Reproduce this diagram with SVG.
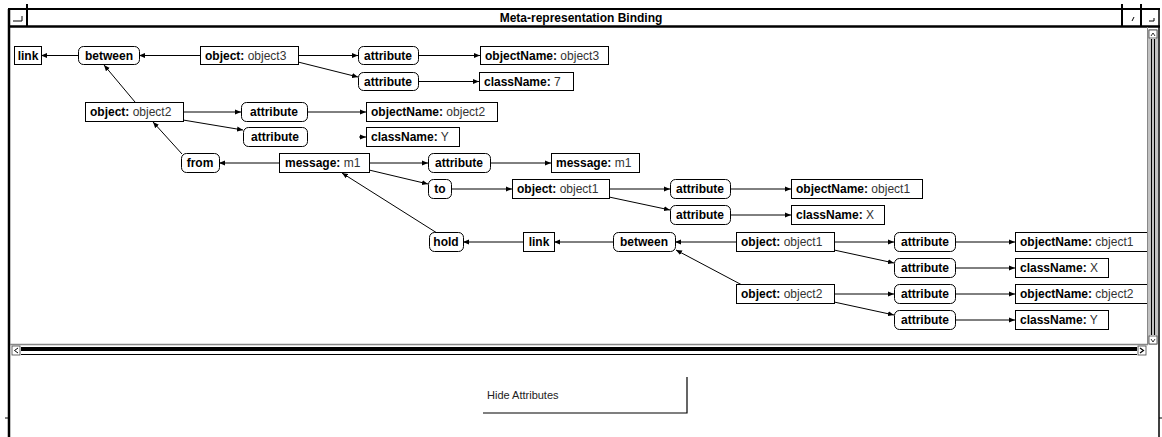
<svg xmlns="http://www.w3.org/2000/svg" width="1162" height="437" viewBox="0 0 1162 437">
<style>
.box{fill:#fff;stroke:#000;stroke-width:1}
.rnd{fill:#fff;stroke:#000;stroke-width:1}
.t{font-family:"Liberation Sans",Arial,sans-serif;font-size:12px;fill:#000}
.b{font-weight:bold}
.v{font-weight:normal;fill:#333}
.c line{stroke:#000;stroke-width:1;marker-end:url(#ah)}
.fr{stroke:#000;fill:none}
</style>
<defs>
<marker id="ah" viewBox="0 0 6 6" refX="6" refY="3" markerWidth="6" markerHeight="6" orient="auto" markerUnits="userSpaceOnUse">
<path d="M0,0.5 L6,3 L0,5.5 z" fill="#000"/>
</marker>
<clipPath id="cv"><rect x="10" y="27" width="1137" height="317"/></clipPath>
</defs>
<rect x="0" y="0" width="1162" height="437" fill="#fff"/>

<!-- window frame -->
<g id="frame">
<line class="fr" x1="8" y1="9" x2="1160" y2="9" stroke-width="2"/>
<line class="fr" x1="9" y1="9" x2="9" y2="437" stroke-width="2.5"/>
<line class="fr" x1="1159" y1="9" x2="1159" y2="437" stroke-width="1.5"/>
<line class="fr" x1="9" y1="26.5" x2="1160" y2="26.5" stroke-width="2.5"/>
<line class="fr" x1="27" y1="4" x2="27" y2="27" stroke-width="2"/>
<line class="fr" x1="1122" y1="4" x2="1122" y2="27" stroke-width="2"/>
<line class="fr" x1="1141" y1="4" x2="1141" y2="27" stroke-width="2"/>
<path class="fr" d="M13,21 H22 V16" stroke-width="1"/>
<path class="fr" d="M1132,21 L1134,17" stroke-width="1"/>
<path class="fr" d="M1149,21 H1154 V18" stroke-width="1"/>
<text class="t b" x="581" y="22" text-anchor="middle" font-size="11.5">Meta-representation Binding</text>
<line class="fr" x1="5" y1="418" x2="9" y2="418" stroke-width="1"/>
<line class="fr" x1="1159" y1="418" x2="1162" y2="418" stroke-width="1"/>
</g>

<!-- canvas borders and scrollbars -->
<g id="scrollbars">
<line x1="10" y1="344.5" x2="1148" y2="344.5" stroke="#888" stroke-width="1.5"/>
<line x1="1147.5" y1="27" x2="1147.5" y2="345" stroke="#888" stroke-width="1"/>
<rect x="1149" y="30" width="8" height="314" fill="#fff" stroke="#666" stroke-width="0.8"/>
<rect x="1149" y="30" width="8" height="8" fill="#fff" stroke="#444" stroke-width="0.8"/>
<path d="M1151,36 L1153,33 L1155,36" fill="none" stroke="#000" stroke-width="0.8"/>
<line x1="1151.5" y1="39" x2="1151.5" y2="335" stroke="#000" stroke-width="1.5"/>
<line x1="1154.5" y1="39" x2="1154.5" y2="335" stroke="#000" stroke-width="1.5"/>
<rect x="1149" y="336" width="8" height="8" fill="#fff" stroke="#444" stroke-width="0.8"/>
<path d="M1151,339 L1153,342 L1155,339" fill="none" stroke="#000" stroke-width="0.8"/>
<rect x="12" y="346" width="8" height="9" fill="#fff" stroke="#444" stroke-width="0.8"/>
<path d="M18,348 L14.5,350.5 L18,353" fill="none" stroke="#000" stroke-width="1"/>
<rect x="21" y="347" width="1116" height="4" fill="#000"/>
<line x1="21" y1="354.5" x2="1137" y2="354.5" stroke="#000" stroke-width="1"/>
<rect x="1138" y="346" width="8" height="9" fill="#fff" stroke="#444" stroke-width="0.8"/>
<path d="M1140,348 L1143.5,350.5 L1140,353" fill="none" stroke="#000" stroke-width="1.2"/>
</g>

<!-- button -->
<g id="hide-attributes">
<path d="M483,413 H687 V377" fill="none" stroke="#000" stroke-width="1.2"/>
<text x="487" y="399" font-family="'Liberation Sans',Arial,sans-serif" font-size="11" fill="#222">Hide Attributes</text>
</g>

<g clip-path="url(#cv)">
<!-- connectors -->
<g id="connectors" class="c">
<line x1="78" y1="55.5" x2="41" y2="55.5"/>
<line x1="200" y1="55.5" x2="139" y2="55.5"/>
<line x1="298" y1="55.5" x2="358" y2="55.5"/>
<line x1="298" y1="62" x2="358" y2="77"/>
<line x1="418" y1="55.5" x2="480" y2="55.5"/>
<line x1="418" y1="81.5" x2="479" y2="81.5"/>
<line x1="135" y1="102" x2="104" y2="65"/>
<line x1="183" y1="112" x2="241" y2="112"/>
<line x1="183" y1="120" x2="243" y2="130"/>
<line x1="307" y1="112" x2="366" y2="112"/>
<line x1="359" y1="137" x2="366" y2="137"/>
<line x1="182" y1="154" x2="153" y2="122"/>
<line x1="279" y1="163" x2="219" y2="163"/>
<line x1="369" y1="163" x2="428" y2="163"/>
<line x1="369" y1="170" x2="428" y2="184"/>
<line x1="490" y1="163" x2="551" y2="163"/>
<line x1="451" y1="189" x2="512" y2="189"/>
<line x1="609" y1="189" x2="670" y2="189"/>
<line x1="609" y1="197" x2="670" y2="210"/>
<line x1="730" y1="189" x2="791" y2="189"/>
<line x1="730" y1="215" x2="791" y2="215"/>
<line x1="437" y1="233" x2="342" y2="173"/>
<line x1="523" y1="242" x2="463" y2="242"/>
<line x1="613" y1="242" x2="554" y2="242"/>
<line x1="736" y1="242" x2="675" y2="242"/>
<line x1="742" y1="285" x2="676" y2="250"/>
<line x1="834" y1="242" x2="894" y2="242"/>
<line x1="834" y1="250" x2="894" y2="263"/>
<line x1="955" y1="242" x2="1015" y2="242"/>
<line x1="955" y1="268" x2="1015" y2="268"/>
<line x1="834" y1="294" x2="894" y2="294"/>
<line x1="834" y1="302" x2="894" y2="315"/>
<line x1="955" y1="294" x2="1015" y2="294"/>
<line x1="955" y1="320" x2="1015" y2="320"/>
</g>

<!-- row A -->
<g id="n-link1"><rect class="box" x="14.5" y="46.5" width="27" height="18"/><text class="t b" x="28" y="60" text-anchor="middle">link</text></g>
<g id="n-between1"><rect class="rnd" x="78.5" y="46.5" width="61" height="18" rx="5"/><text class="t b" x="109" y="60" text-anchor="middle">between</text></g>
<g id="n-object3"><rect class="box" x="200.5" y="46.5" width="98" height="18"/><text class="t" x="205" y="60"><tspan class="b">object:</tspan><tspan class="v"> object3</tspan></text></g>
<g id="n-attr-a1"><rect class="rnd" x="358.5" y="46.5" width="60" height="18" rx="5"/><text class="t b" x="388" y="60" text-anchor="middle">attribute</text></g>
<g id="n-objname3"><rect class="box" x="480.5" y="46.5" width="128" height="18"/><text class="t" x="485" y="60"><tspan class="b">objectName:</tspan><tspan class="v"> object3</tspan></text></g>
<!-- row B -->
<g id="n-attr-a2"><rect class="rnd" x="358.5" y="72.5" width="60" height="18" rx="5"/><text class="t b" x="388" y="86" text-anchor="middle">attribute</text></g>
<g id="n-classname7"><rect class="box" x="479.5" y="72.5" width="94" height="18"/><text class="t" x="484" y="86"><tspan class="b">className:</tspan><tspan class="v"> 7</tspan></text></g>
<!-- row C -->
<g id="n-object2"><rect class="box" x="85.5" y="102.5" width="98" height="19"/><text class="t" x="90" y="116"><tspan class="b">object:</tspan><tspan class="v"> object2</tspan></text></g>
<g id="n-attr-c1"><rect class="rnd" x="241.5" y="102.5" width="66" height="19" rx="5"/><text class="t b" x="274" y="116" text-anchor="middle">attribute</text></g>
<g id="n-objname2"><rect class="box" x="366.5" y="102.5" width="131" height="19"/><text class="t" x="371" y="116"><tspan class="b">objectName:</tspan><tspan class="v"> object2</tspan></text></g>
<!-- row D -->
<g id="n-attr-c2"><rect class="rnd" x="243.5" y="127.5" width="64" height="19" rx="5"/><text class="t b" x="275" y="141" text-anchor="middle">attribute</text></g>
<g id="n-classnameY1"><rect class="box" x="366.5" y="127.5" width="93" height="19"/><text class="t" x="371" y="141"><tspan class="b">className:</tspan><tspan class="v"> Y</tspan></text></g>
<!-- row E -->
<g id="n-from"><rect class="rnd" x="181.5" y="153.5" width="38" height="19" rx="5"/><text class="t b" x="200" y="167" text-anchor="middle">from</text></g>
<g id="n-message"><rect class="box" x="279.5" y="153.5" width="90" height="19"/><text class="t" x="285" y="167"><tspan class="b">message:</tspan><tspan class="v"> m1</tspan></text></g>
<g id="n-attr-e"><rect class="rnd" x="428.5" y="153.5" width="62" height="19" rx="5"/><text class="t b" x="459" y="167" text-anchor="middle">attribute</text></g>
<g id="n-msgval"><rect class="box" x="551.5" y="153.5" width="88" height="19"/><text class="t" x="556" y="167"><tspan class="b">message:</tspan><tspan class="v"> m1</tspan></text></g>
<!-- row F -->
<g id="n-to"><rect class="rnd" x="428.5" y="179.5" width="23" height="19" rx="5"/><text class="t b" x="440" y="193" text-anchor="middle">to</text></g>
<g id="n-object1a"><rect class="box" x="512.5" y="179.5" width="97" height="19"/><text class="t" x="517" y="193"><tspan class="b">object:</tspan><tspan class="v"> object1</tspan></text></g>
<g id="n-attr-f1"><rect class="rnd" x="670.5" y="179.5" width="60" height="19" rx="5"/><text class="t b" x="700" y="193" text-anchor="middle">attribute</text></g>
<g id="n-objname1a"><rect class="box" x="791.5" y="179.5" width="131" height="19"/><text class="t" x="796" y="193"><tspan class="b">objectName:</tspan><tspan class="v"> object1</tspan></text></g>
<!-- row G -->
<g id="n-attr-f2"><rect class="rnd" x="670.5" y="205.5" width="60" height="19" rx="5"/><text class="t b" x="700" y="219" text-anchor="middle">attribute</text></g>
<g id="n-classnameX1"><rect class="box" x="791.5" y="205.5" width="93" height="19"/><text class="t" x="796" y="219"><tspan class="b">className:</tspan><tspan class="v"> X</tspan></text></g>
<!-- row H -->
<g id="n-hold"><rect class="rnd" x="429.5" y="232.5" width="34" height="19" rx="5"/><text class="t b" x="446" y="246" text-anchor="middle">hold</text></g>
<g id="n-link2"><rect class="box" x="523.5" y="232.5" width="31" height="19"/><text class="t b" x="539" y="246" text-anchor="middle">link</text></g>
<g id="n-between2"><rect class="rnd" x="613.5" y="232.5" width="62" height="19" rx="5"/><text class="t b" x="644" y="246" text-anchor="middle">between</text></g>
<g id="n-object1b"><rect class="box" x="736.5" y="232.5" width="98" height="19"/><text class="t" x="741" y="246"><tspan class="b">object:</tspan><tspan class="v"> object1</tspan></text></g>
<g id="n-attr-h1"><rect class="rnd" x="894.5" y="232.5" width="61" height="19" rx="5"/><text class="t b" x="925" y="246" text-anchor="middle">attribute</text></g>
<g id="n-objname1b"><rect class="box" x="1015.5" y="232.5" width="140" height="19"/><text class="t" x="1020" y="246"><tspan class="b">objectName:</tspan><tspan class="v"> cbject1</tspan></text></g>
<!-- row I -->
<g id="n-attr-h2"><rect class="rnd" x="894.5" y="258.5" width="61" height="19" rx="5"/><text class="t b" x="925" y="272" text-anchor="middle">attribute</text></g>
<g id="n-classnameX2"><rect class="box" x="1015.5" y="258.5" width="93" height="19"/><text class="t" x="1020" y="272"><tspan class="b">className:</tspan><tspan class="v"> X</tspan></text></g>
<!-- row J -->
<g id="n-object2b"><rect class="box" x="736.5" y="284.5" width="98" height="19"/><text class="t" x="741" y="298"><tspan class="b">object:</tspan><tspan class="v"> object2</tspan></text></g>
<g id="n-attr-j1"><rect class="rnd" x="894.5" y="284.5" width="61" height="19" rx="5"/><text class="t b" x="925" y="298" text-anchor="middle">attribute</text></g>
<g id="n-objname2b"><rect class="box" x="1015.5" y="284.5" width="140" height="19"/><text class="t" x="1020" y="298"><tspan class="b">objectName:</tspan><tspan class="v"> cbject2</tspan></text></g>
<!-- row K -->
<g id="n-attr-j2"><rect class="rnd" x="894.5" y="310.5" width="61" height="19" rx="5"/><text class="t b" x="925" y="324" text-anchor="middle">attribute</text></g>
<g id="n-classnameY2"><rect class="box" x="1015.5" y="310.5" width="93" height="19"/><text class="t" x="1020" y="324"><tspan class="b">className:</tspan><tspan class="v"> Y</tspan></text></g>
</g>
</svg>
